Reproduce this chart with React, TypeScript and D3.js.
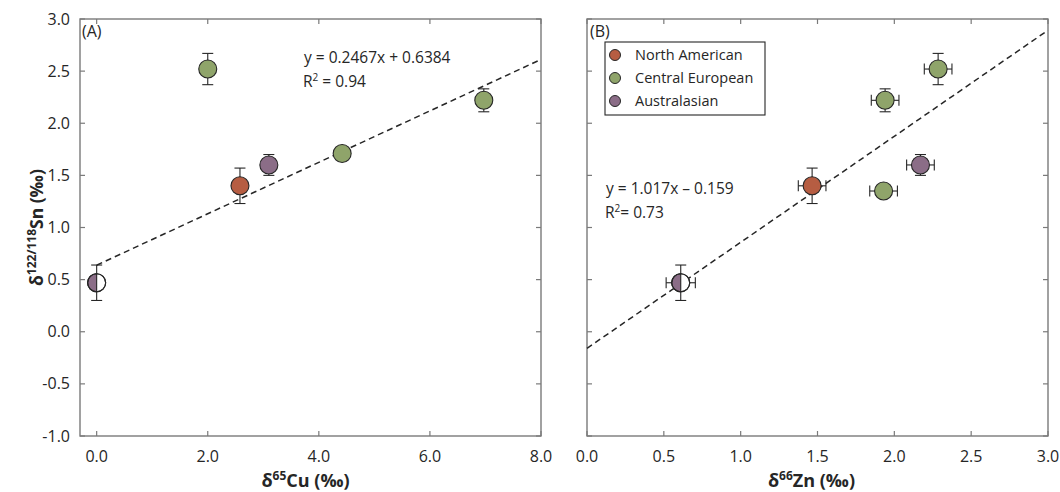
import React from 'react';
import * as d3 from 'd3';

// groups: NA = North American, CE = Central European, AU = Australasian, half = half-filled Australasian
const groups = ["North American", "Central European", "Australasian"];
const groupColors = ["#b65d42", "#8fa46a", "#8b6d87"];

// panel A: δ65Cu vs δ122/118Sn
const cuX = [0.0, 2.0, 2.58, 3.1, 4.42, 6.97];
const snA = [0.47, 2.52, 1.40, 1.60, 1.71, 2.22];
const snErrA = [0.17, 0.15, 0.17, 0.10, 0.0, 0.11];
const grpA = ["half", "CE", "NA", "AU", "CE", "CE"];

// panel B: δ66Zn vs δ122/118Sn
const znX = [0.61, 1.465, 1.93, 1.94, 2.17, 2.285];
const snB = [0.47, 1.40, 1.35, 2.22, 1.60, 2.52];
const snErrB = [0.17, 0.17, 0.0, 0.11, 0.10, 0.15];
const znErr = [0.095, 0.09, 0.09, 0.09, 0.09, 0.09];
const grpB = ["half", "NA", "CE", "CE", "AU", "CE"];

const yTicks = [-1.0, -0.5, 0.0, 0.5, 1.0, 1.5, 2.0, 2.5, 3.0];
const xTicksA = [0, 2, 4, 6, 8];
const xTicksB = [0, 0.5, 1.0, 1.5, 2.0, 2.5, 3.0];

const fitA = { slope: 0.2467, icpt: 0.6384, from: 0, to: 8 };
const fitB = { slope: 1.017, icpt: -0.159, from: 0, to: 3 };

const FONT = "'Open Sans', 'Noto Sans', sans-serif";
const AXIS = "#7a7a7a";
const INK = "#262626";

const top = 19, bottom = 436;
const y = d3.scaleLinear().domain([-1, 3]).range([bottom, top]);
const xA = d3.scaleLinear().domain([-0.3, 8]).range([80, 541]);
const xB = d3.scaleLinear().domain([0, 3]).range([587, 1048]);

const colorOf = (g: string) => g === "NA" ? groupColors[0] : g === "CE" ? groupColors[1] : groupColors[2];

function Marker({ cx, cy, g }: { cx: number; cy: number; g: string }) {
  const r = 9;
  if (g === "half") {
    const left = d3.arc()({ innerRadius: 0, outerRadius: r, startAngle: Math.PI, endAngle: 2 * Math.PI } as any) as string;
    return (
      <g transform={`translate(${cx},${cy})`}>
        <circle r={r} fill="#fff" />
        <path d={left} fill={groupColors[2]} />
        <circle r={r} fill="none" stroke={INK} strokeWidth={1.1} />
      </g>
    );
  }
  return <circle cx={cx} cy={cy} r={r} fill={colorOf(g)} stroke={INK} strokeWidth={1.1} />;
}

function Frame({ x, ticks, fmt }: { x: d3.ScaleLinear<number, number>; ticks: number[]; fmt: (v: number) => string }) {
  const [x0, x1] = x.range();
  const tl = 5;
  return (
    <g>
      <rect x={x0} y={top} width={x1 - x0} height={bottom - top} fill="none" stroke={AXIS} strokeWidth={1.4} />
      {ticks.map(t => (
        <g key={"x" + t}>
          <line x1={x(t)} x2={x(t)} y1={bottom} y2={bottom - tl} stroke={AXIS} strokeWidth={1.2} />
          <line x1={x(t)} x2={x(t)} y1={top} y2={top + tl} stroke={AXIS} strokeWidth={1.2} />
          <text x={x(t)} y={bottom + 26} textAnchor="middle" fontSize={16} fill={INK} fontFamily={FONT}>{fmt(t)}</text>
        </g>
      ))}
      {yTicks.map(t => (
        <g key={"y" + t}>
          <line x1={x0} x2={x0 + tl} y1={y(t)} y2={y(t)} stroke={AXIS} strokeWidth={1.2} />
          <line x1={x1} x2={x1 - tl} y1={y(t)} y2={y(t)} stroke={AXIS} strokeWidth={1.2} />
        </g>
      ))}
    </g>
  );
}

function Points({ x, xs, ys, yErr, xErr, grp }: any) {
  const cap = 5.5;
  return (
    <g stroke={INK} strokeWidth={1.1}>
      {xs.map((v: number, i: number) => {
        const cx = x(v), cy = y(ys[i]);
        return (
          <g key={i}>
            {yErr[i] > 0 && (
              <g>
                <line x1={cx} x2={cx} y1={y(ys[i] + yErr[i])} y2={y(ys[i] - yErr[i])} />
                <line x1={cx - cap} x2={cx + cap} y1={y(ys[i] + yErr[i])} y2={y(ys[i] + yErr[i])} />
                <line x1={cx - cap} x2={cx + cap} y1={y(ys[i] - yErr[i])} y2={y(ys[i] - yErr[i])} />
              </g>
            )}
            {xErr && (
              <g>
                <line x1={x(v - xErr[i])} x2={x(v + xErr[i])} y1={cy} y2={cy} />
                <line x1={x(v - xErr[i])} x2={x(v - xErr[i])} y1={cy - cap} y2={cy + cap} />
                <line x1={x(v + xErr[i])} x2={x(v + xErr[i])} y1={cy - cap} y2={cy + cap} />
              </g>
            )}
            <Marker cx={cx} cy={cy} g={grp[i]} />
          </g>
        );
      })}
    </g>
  );
}

function FitLine({ x, fit }: any) {
  return (
    <line x1={x(fit.from)} y1={y(fit.slope * fit.from + fit.icpt)} x2={x(fit.to)} y2={y(fit.slope * fit.to + fit.icpt)}
      stroke={INK} strokeWidth={1.5} strokeDasharray="6,4" />
  );
}

export default function App() {
  const f1 = (v: number) => v.toFixed(1);
  return (
    <svg width={1060} height={492} viewBox="0 0 1060 492" style={{ position: 'absolute', left: 0, top: 0, background: '#fff' }}>
      {/* y tick labels, panel A only */}
      {yTicks.map(t => (
        <text key={t} x={70} y={y(t) + 5.5} textAnchor="end" fontSize={16} fill={INK} fontFamily={FONT}>{t.toFixed(1)}</text>
      ))}
      <text transform={`translate(43,${(top + bottom) / 2}) rotate(-90)`} textAnchor="middle" fontSize={17.5} fontWeight="bold" fill={INK} fontFamily={FONT}>
        δ<tspan fontSize={12} dy={-7}>122/118</tspan><tspan dy={7}>Sn (‰)</tspan>
      </text>

      {/* Panel A */}
      <Frame x={xA} ticks={xTicksA} fmt={f1} />
      <FitLine x={xA} fit={fitA} />
      <Points x={xA} xs={cuX} ys={snA} yErr={snErrA} grp={grpA} />
      <text x={82} y={37} fontSize={16} fill={INK} fontFamily={FONT}>(A)</text>
      <text x={304} y={63} fontSize={15.5} fill={INK} fontFamily={FONT}>y = 0.2467x + 0.6384</text>
      <text x={303} y={87} fontSize={15.5} fill={INK} fontFamily={FONT}>R<tspan fontSize={10} dy={-6}>2</tspan><tspan dy={6}> = 0.94</tspan></text>
      <text x={(xA.range()[0] + xA.range()[1]) / 2 - 5} y={487} textAnchor="middle" fontSize={18} fontWeight="bold" fill={INK} fontFamily={FONT}>
        δ<tspan fontSize={12} dy={-7}>65</tspan><tspan dy={7}>Cu (‰)</tspan>
      </text>

      {/* Panel B */}
      <Frame x={xB} ticks={xTicksB} fmt={f1} />
      <FitLine x={xB} fit={fitB} />
      <Points x={xB} xs={znX} ys={snB} yErr={snErrB} xErr={znErr} grp={grpB} />
      <text x={590} y={37} fontSize={16} fill={INK} fontFamily={FONT}>(B)</text>
      <text x={606} y={194} fontSize={15.5} fill={INK} fontFamily={FONT}>y = 1.017x – 0.159</text>
      <text x={605} y={218} fontSize={15.5} fill={INK} fontFamily={FONT}>R<tspan fontSize={10} dy={-6}>2</tspan><tspan dy={6}>= 0.73</tspan></text>
      <text x={(xB.range()[0] + xB.range()[1]) / 2 - 6} y={487} textAnchor="middle" fontSize={18} fontWeight="bold" fill={INK} fontFamily={FONT}>
        δ<tspan fontSize={12} dy={-7}>66</tspan><tspan dy={7}>Zn (‰)</tspan>
      </text>

      {/* legend */}
      <g>
        <rect x={605} y={42} width={160} height={73} fill="#fff" stroke={INK} strokeWidth={1.1} />
        {groups.map((g, i) => (
          <g key={g} transform={`translate(0,${55 + i * 23})`}>
            <circle cx={615} cy={0} r={5.5} fill={groupColors[i]} stroke={INK} strokeWidth={1} />
            <text x={635} y={5} fontSize={14.5} fill={INK} fontFamily={FONT}>{g}</text>
          </g>
        ))}
      </g>
    </svg>
  );
}
